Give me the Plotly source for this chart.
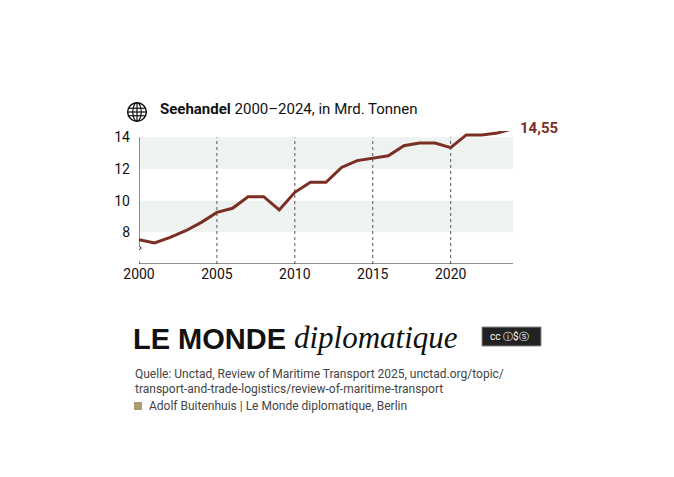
import plotly.graph_objects as go

years = list(range(2000, 2025))
values = [7.54, 7.33, 7.68, 8.10, 8.63, 9.26, 9.52, 10.25, 10.25, 9.41, 10.53, 11.16, 11.16,
          12.10, 12.53, 12.67, 12.84, 13.47, 13.64, 13.64, 13.35, 14.15, 14.15, 14.27, 14.55]
ytick_vals = [8, 10, 12, 14]
xtick_vals = [2000, 2005, 2010, 2015, 2020]
bands = [(8, 10), (12, 14)]

LINE = "#7b2f24"
FONT = "Liberation Sans Narrow, Roboto, sans-serif"

fig = go.Figure()
fig.add_trace(go.Scatter(x=years, y=values, mode="lines",
                         line=dict(color=LINE, width=3), hoverinfo="skip"))

shapes = []
for lo, hi in bands:
    shapes.append(dict(type="rect", xref="x", yref="y", x0=2000, x1=2024, y0=lo, y1=hi,
                       fillcolor="#eef2f1", line_width=0, layer="below"))
for xv in xtick_vals[1:]:
    shapes.append(dict(type="line", xref="x", yref="y", x0=xv, x1=xv, y0=6, y1=14,
                       line=dict(color="#555", width=1, dash="dot"), layer="below"))
shapes.append(dict(type="line", xref="x", yref="y", x0=2000, x1=2024, y0=6, y1=6,
                   line=dict(color="#222", width=1)))
shapes.append(dict(type="line", xref="x", yref="y", x0=2000, x1=2000, y0=7.15, y1=14,
                   line=dict(color="#222", width=1)))
shapes.append(dict(type="line", xref="x", yref="y", x0=2000, x1=2000, y0=6, y1=6.2,
                   line=dict(color="#222", width=1)))
shapes.append(dict(type="path", xref="x", yref="y",
                   path="M 2000 7.15 L 2000.15 7.0 L 2000 6.9",
                   line=dict(color="#222", width=1)))

def px(xp): return (xp - 139) / 374
def py(yp): return (263 - yp) / 133

cx, cy, rx, ry = px(137), py(111), 0.025, 0.07
shapes.append(dict(type="circle", xref="paper", yref="paper", x0=cx-rx, x1=cx+rx,
                   y0=cy-ry, y1=cy+ry, line=dict(color="#111", width=1.5)))
shapes.append(dict(type="circle", xref="paper", yref="paper", x0=cx-rx*0.45, x1=cx+rx*0.45,
                   y0=cy-ry, y1=cy+ry, line=dict(color="#111", width=1.2)))
shapes.append(dict(type="line", xref="paper", yref="paper", x0=cx, x1=cx,
                   y0=cy-ry, y1=cy+ry, line=dict(color="#111", width=1.2)))
for dy in (-0.4, 0, 0.4):
    w = rx * (0.92 if dy else 1)
    shapes.append(dict(type="line", xref="paper", yref="paper", x0=cx-w, x1=cx+w,
                       y0=cy+dy*ry, y1=cy+dy*ry, line=dict(color="#111", width=1.2)))
shapes.append(dict(type="rect", xref="paper", yref="paper", x0=px(482), x1=px(541),
                   y0=py(345), y1=py(326), fillcolor="#222", line=dict(color="#888", width=1)))
shapes.append(dict(type="rect", xref="paper", yref="paper", x0=px(134), x1=px(142),
                   y0=py(409), y1=py(401), fillcolor="#b09a74", line_width=0))

ann = [
    dict(x=px(158), y=py(108), text="<b>Seehandel</b> 2000–2024, in Mrd. Tonnen",
         font=dict(size=15, color="#111", family=FONT)),
    dict(x=px(518), y=py(127), text="<b>14,55</b>", font=dict(size=15, color=LINE, family=FONT)),
    dict(x=px(131), y=py(338), text="<b>LE MONDE</b>",
         font=dict(size=29, color="#111", family="Liberation Sans, Arial, sans-serif")),
    dict(x=px(292), y=py(336), text="<i>diplomatique</i>",
         font=dict(size=31, color="#111", family="Liberation Serif, serif")),
    dict(x=px(488), y=py(335), text="cc ⓘ$ⓢ", font=dict(size=10, color="#fff", family=FONT)),
    dict(x=px(133), y=py(373), text="Quelle: Unctad, Review of Maritime Transport 2025, unctad.org/topic/",
         font=dict(size=12, color="#444", family=FONT)),
    dict(x=px(133), y=py(388), text="transport-and-trade-logistics/review-of-maritime-transport",
         font=dict(size=12, color="#444", family=FONT)),
    dict(x=px(147), y=py(405), text="Adolf Buitenhuis | Le Monde diplomatique, Berlin",
         font=dict(size=12, color="#444", family=FONT)),
]
for a in ann:
    a.update(xref="paper", yref="paper", showarrow=False, xanchor="left", yanchor="middle")

fig.update_layout(
    width=674, height=477, autosize=False,
    margin=dict(l=131, r=169, t=123, b=221),
    paper_bgcolor="white", plot_bgcolor="white", showlegend=False,
    shapes=shapes, annotations=ann,
    xaxis=dict(range=[2000, 2024], tickvals=xtick_vals, ticks="", showgrid=False,
               zeroline=False, showline=False, tickfont=dict(size=14, color="#111", family=FONT)),
    yaxis=dict(range=[6, 14.4], tickvals=ytick_vals, ticks="", showgrid=False,
               zeroline=False, showline=False, ticklabelstandoff=8,
               tickfont=dict(size=14, color="#111", family=FONT)),
)
fig.write_html("out.html")
